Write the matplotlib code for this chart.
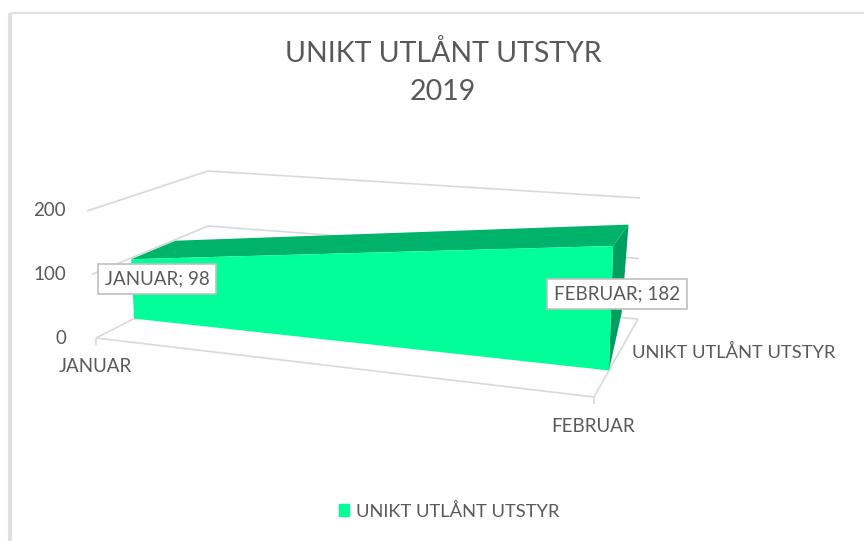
import numpy as np
import matplotlib
matplotlib.use("Agg")
import matplotlib.pyplot as plt
from matplotlib.patches import Polygon, Patch

plt.rcParams['font.family'] = ['Lato', 'DejaVu Sans']

title = "UNIKT UTLÅNT UTSTYR\n2019"
months = ["JANUAR", "FEBRUAR"]
series_name = "UNIKT UTLÅNT UTSTYR"
values = [98, 182]
y_ticks = [0, 100, 200]

TEXT = "#595959"
GRID = "#d9d9d9"
FRONT = "#00ff99"
TOP = "#00b36b"
SIDE = "#009e5f"

# pixel positions of the 3d box: (month 0..1, value 0..1, depth 0..1)
box = {
    (0, 0, 0): (96, 338), (1, 0, 0): (594, 397),
    (0, 1, 0): (87, 211), (1, 1, 0): (600, 252),
    (0, 0, 1): (208, 281), (1, 0, 1): (638, 319),
    (0, 1, 1): (208, 171), (1, 1, 1): (640, 198),
}
area_depth = (0.34, 0.72)


def project(x, v, d):
    # trilinear mapping of chart coordinates to figure pixels
    t = v / max(y_ticks)
    p = np.zeros(2)
    for (i, j, k), c in box.items():
        w = (x if i else 1 - x) * (t if j else 1 - t) * (d if k else 1 - d)
        p += w * np.array(c)
    return p


def line(ax, a, b, lw=1.2):
    ax.plot([a[0], b[0]], [a[1], b[1]], color=GRID, lw=lw, solid_capstyle="butt", zorder=1)


fig = plt.figure(figsize=(8.64, 5.41), dpi=100)
ax = fig.add_axes([0, 0, 1, 1])
ax.set_xlim(0, 864)
ax.set_ylim(541, 0)
ax.axis("off")

# chart frame, only left and top are visible in the crop
ax.plot([10, 10], [541, 13], color="#e0e0e0", lw=3, solid_capstyle="butt")
ax.plot([10, 864], [13, 13], color="#e0e0e0", lw=1.6, solid_capstyle="butt")

ax.text(443, 72.5, title, ha="center", va="center", fontsize=20.5, color=TEXT, linespacing=1.6)

# walls and floor
for tick in y_ticks:
    line(ax, project(0, tick, 0), project(0, tick, 1))
    line(ax, project(0, tick, 1), project(1, tick, 1))
    ax.text(66, project(0, tick, 0)[1], str(tick), ha="right", va="center", fontsize=13.5, color=TEXT)
line(ax, project(0, 0, 0), project(1, 0, 0))
line(ax, project(1, 0, 0), project(1, 0, 1))
line(ax, project(0, 0, 0), project(0, 0, 0) + [0, 7])
line(ax, project(1, 0, 0), project(1, 0, 0) + [0, 7])

# area block
d0, d1 = area_depth
fl, fr = project(0, 0, d0), project(1, 0, d0)
tl, tr = project(0, values[0], d0), project(1, values[1], d0)
bl, br = project(0, values[0], d1), project(1, values[1], d1)
rb = project(1, 0, d1) + [-4, -28]
ax.add_patch(Polygon([tr, br, rb, fr], color=SIDE, lw=0, zorder=2))
ax.add_patch(Polygon([tl, bl, br, tr], color=TOP, lw=0, zorder=2))
ax.add_patch(Polygon([fl, tl, tr, fr], color=FRONT, lw=0, zorder=3))

# category and series labels
ax.text(95, 366, months[0], ha="center", va="center", fontsize=13.5, color=TEXT)
ax.text(593, 426, months[1], ha="center", va="center", fontsize=13.5, color=TEXT)
ax.text(733.5, 352, series_name, ha="center", va="center", fontsize=13.2, color=TEXT)

# data labels
label_pos = [(157, 279), (617, 294)]
for name, val, (lx, ly) in zip(months, values, label_pos):
    ax.text(lx, ly, "%s; %d" % (name, val), ha="center", va="center", fontsize=13.5, color=TEXT, zorder=5,
            bbox=dict(boxstyle="square,pad=0.36", fc="white", ec="#bfbfbf", lw=1.2))

ax.legend(handles=[Patch(color=FRONT, label=series_name)], loc="center", bbox_to_anchor=(449 / 864, 1 - 511 / 541),
          frameon=False, fontsize=13.2, labelcolor=TEXT, handlelength=0.55, handleheight=0.55, handletextpad=0.35)

fig.savefig("out.png", dpi=100)
